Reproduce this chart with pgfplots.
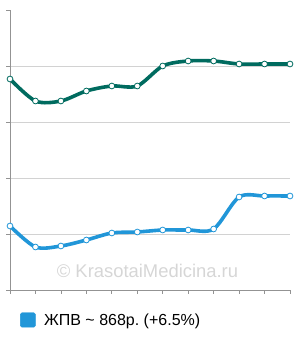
\documentclass[border=0pt]{standalone}
\usepackage{pgfplots}
\pgfplotsset{compat=1.18}
\usepackage{fontspec}
\setmainfont{Liberation Sans}
\frenchspacing
\definecolor{darkteal}{HTML}{006B5F}
\definecolor{lblue}{HTML}{2196D8}
\definecolor{wm}{HTML}{D6D6D6}
\begin{document}
\begin{tikzpicture}[x=1pt,y=1pt]
\useasboundingbox (0,0) rectangle (300,340);
\begin{axis}[
  at={(10pt,50pt)}, anchor=south west,
  scale only axis, width=280pt, height=280pt,
  xmin=0, xmax=11, ymin=0, ymax=280,
  axis x line*=bottom, axis y line*=left,
  axis line style={draw=gray!85, -, line width=0.8pt},
  xtick={0,...,11}, ytick={56,112,168,224},
  extra y ticks={0,280}, extra y tick style={grid=none},
  xticklabels={}, yticklabels={}, extra y tick labels={},
  tick align=outside, major tick length=4pt,
  tick style={draw=gray!85, line width=0.8pt},
  ymajorgrids, grid style={draw=gray!35, line width=0.6pt},
  clip=false,
  legend style={at={(rel axis cs:0.0357,-0.107)}, anchor=west, draw=none, fill=none,
    inner sep=0pt, nodes={inner sep=0pt}, column sep=8.5pt,
    font=\fontsize{16}{18}\selectfont},
  legend cell align=left,
]
\node[text=wm, font=\fontsize{18.4}{22}\selectfont] at (rel axis cs:0.491,0.068) {© KrasotaiMedicina.ru};
\addplot[darkteal, line width=3.6pt, smooth, mark=*, mark size=2.9pt,
  mark options={fill=white, draw=darkteal, line width=0.8pt}, forget plot]
  coordinates {(0,211) (1,189) (2,189) (3,199) (4,204) (5,204) (6,224) (7,229) (8,229) (9,226) (10,226) (11,226)};
\addplot[lblue, line width=3.6pt, smooth, mark=*, mark size=2.9pt,
  mark options={fill=white, draw=lblue, line width=0.8pt}, forget plot]
  coordinates {(0,64) (1,43) (2,44) (3,50) (4,57) (5,58) (6,60) (7,60) (8,61) (9,93) (10,94) (11,94)};
\addlegendimage{legend image code/.code={\fill[lblue, rounded corners=1.5pt] (0pt,-7pt) rectangle (15pt,7.5pt);}}
\addlegendentry{ЖПВ \textasciitilde{} 868р. (+6.5\%)}
\end{axis}
\end{tikzpicture}
\end{document}
